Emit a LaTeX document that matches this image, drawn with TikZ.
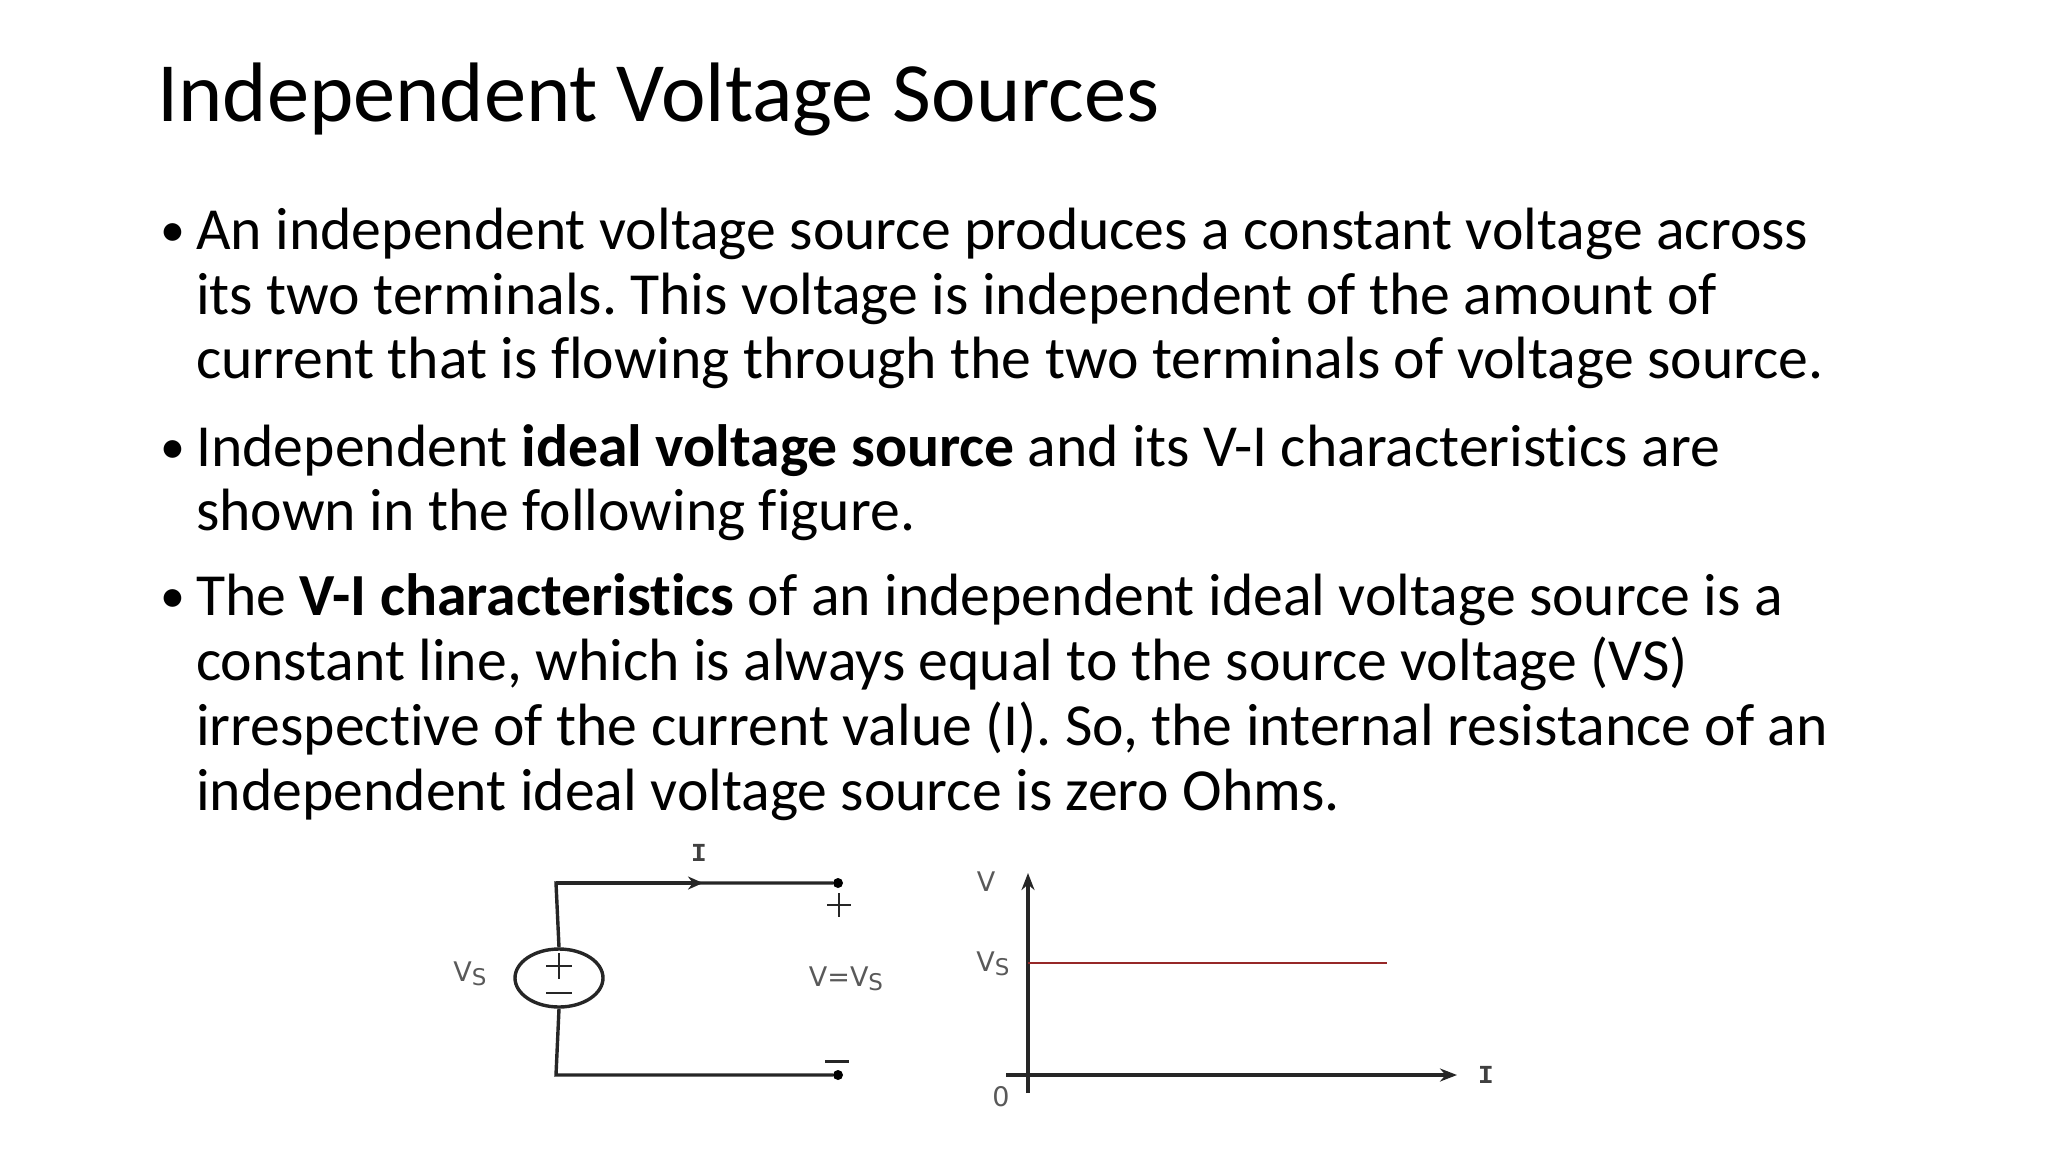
\documentclass[tikz,border=0pt]{standalone}
\usepackage{fontspec}
\setmainfont[Ligatures={NoCommon}]{Carlito}
\newfontfamily\lab{DejaVu Sans}
\newfontfamily\labm{Liberation Mono}
\usetikzlibrary{arrows.meta,shapes.geometric}
\frenchspacing
\begin{document}
\begin{tikzpicture}[x=1pt,y=-1pt,
  line/.style={anchor=base west,inner sep=0,font=\fontsize{59.7}{65}\selectfont},
  bul/.style={anchor=base west,inner sep=0,font=\fontsize{50}{50}\selectfont},
  wire/.style={line width=3.4pt,black!85},
  lbl/.style={text=black!65,font=\lab\fontsize{27}{27}\selectfont,inner sep=0},
  lblm/.style={text=black!75,font=\labm\bfseries\fontsize{26}{26}\selectfont,inner sep=0},
  dotc/.style={circle,fill=black,inner sep=0,minimum size=10pt}]
\useasboundingbox (0,0) rectangle (2048,1152);
\node[line,font=\fontsize{84.4}{90}\selectfont] (title) at (157,121) {Independent Voltage Sources};
\node[bul] (b1) at (160,246) {•};
\node[line] (l1) at (196,249) {An independent voltage source produces a constant voltage across};
\node[line] (l2) at (196,314) {its two terminals. This voltage is independent of the amount of};
\node[line] (l3) at (196,378) {current that is flowing through the two terminals of voltage source.};
\node[bul] (b2) at (160,463) {•};
\node[line] (l4) at (196,466) {Independent \textbf{ideal voltage source} and its V-I characteristics are};
\node[line] (l5) at (196,530) {shown in the following figure.};
\node[bul] (b3) at (160,612) {•};
\node[line] (l6) at (196,615) {The \textbf{V-I characteristics} of an independent ideal voltage source is a};
\node[line] (l7) at (196,680) {constant line, which is always equal to the source voltage (VS)};
\node[line] (l8) at (196,745) {irrespective of the current value (I). So, the internal resistance of an};
\node[line] (l9) at (196,810) {independent ideal voltage source is zero Ohms.};
% circuit
\node[draw,line width=3.4pt,black!85,ellipse,minimum width=88pt,minimum height=58pt,inner sep=0] (src) at (559,978) {};
\coordinate (tl) at (556,883);
\coordinate (bl) at (556,1075);
\node[dotc] (dtop) at (838,883) {};
\node[dotc] (dbot) at (838,1075) {};
\coordinate (am) at (703,883);
\draw[wire] (src.north) -- (tl) -- (dtop);
\draw[wire] (src.south) -- (bl) -- (dbot);
\draw[wire,-{Stealth[length=15pt,width=13pt]}] (tl) -- (am);
\draw[wire,line width=2.6pt] (546,966) -- (572,966) (559,953) -- (559,979);
\draw[wire,line width=2.6pt] (546,993) -- (572,993);
\node[lblm] (iI) at (699,853) {I};
\draw[wire,line width=2.6pt] (827,905) -- (851,905) (839,893) -- (839,917);
\draw[wire,line width=3pt] (825,1061) -- (849,1061);
\node[lbl] (vs) at (470,974) {V\raisebox{-4pt}{\fontsize{23}{23}\selectfont S}};
\node[lbl] (vv) at (846,979) {V=V\raisebox{-4pt}{\fontsize{23}{23}\selectfont S}};
% graph
\coordinate (yb) at (1028,1093);
\coordinate (yt) at (1028,873);
\coordinate (xl) at (1006,1075);
\coordinate (xr) at (1457,1075);
\coordinate (rs) at (1028,963);
\coordinate (re) at (1387,963);
\draw[wire,-{Stealth[length=17pt,width=13pt]}] (yb) -- (yt);
\draw[wire,-{Stealth[length=17pt,width=13pt]}] (xl) -- (xr);
\draw[line width=2.4pt,color={rgb,255:red,150;green,40;blue,40}] (rs) -- (re);
\node[lbl] (vlab) at (986,882) {V};
\node[lbl] (vslab) at (993,964) {V\raisebox{-4pt}{\fontsize{23}{23}\selectfont S}};
\node[lbl] (zero) at (1001,1097) {0};
\node[lblm] (ilab) at (1486,1075) {I};
\end{tikzpicture}
\end{document}
